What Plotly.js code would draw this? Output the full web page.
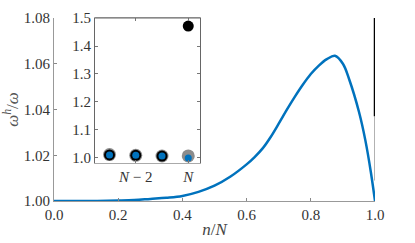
<!DOCTYPE html>
<html><head><meta charset="utf-8">
<script src="https://cdn.plot.ly/plotly-3.0.1.min.js"></script>
<style>html,body{margin:0;padding:0;background:#fff}#c{width:415px;height:243px}</style>
</head><body><div id="c"></div>
<script>
// main curve: ratio omega^h/omega vs n/N
const curveX = [0, 0.1, 0.2, 0.25, 0.3, 0.35, 0.4, 0.45, 0.5, 0.55, 0.6, 0.625, 0.65, 0.675, 0.7, 0.725, 0.75, 0.775, 0.8, 0.825, 0.85, 0.875, 0.9, 0.92, 0.95, 0.97, 0.987, 1.0];
const curveY = [1.0, 1.0, 1.0002, 1.0004, 1.0009, 1.0014, 1.0022, 1.0040, 1.0067, 1.0107, 1.0160, 1.0192, 1.0230, 1.0280, 1.0338, 1.0398, 1.0455, 1.0508, 1.0555, 1.0592, 1.0620, 1.0635, 1.0600, 1.0530, 1.0390, 1.0265, 1.0127, 1.0];
// discrete end points (inset): index relative to N
const discIdx = [-3, -2, -1, 0];
const discBlack = [1.011, 1.0095, 1.007, 1.471];
const discGray = [1.012, 1.0095, 1.007, 1.0075];
const discBlue = [1.011, 1.0095, 1.007, 1.0];
// jump at n/N = 1 in the main panel
const jumpX = [1, 1];
const jumpBlackY = [1.037, 1.471];
const jumpGrayY = [1.009, 1.037];
const insetTickVals = [-2, 0];
const insetTickText = ['<i>N</i> − 2', '<i>N</i>'];

const blue = '#0072BD';
const fam = '"Liberation Serif", serif';
function F(sz, col) { return {family: fam, size: sz, color: col}; }

const traces = [
  {x: jumpX, y: jumpGrayY, mode: 'lines', line: {color: '#999', width: 1.5}, xaxis: 'x', yaxis: 'y'},
  {x: jumpX, y: jumpBlackY, mode: 'lines', line: {color: '#000', width: 2.5}, xaxis: 'x', yaxis: 'y'},
  {x: curveX, y: curveY, mode: 'lines', line: {color: blue, width: 2.5, shape: 'spline', smoothing: 1}, xaxis: 'x', yaxis: 'y'},
  {x: discIdx, y: discGray, mode: 'markers', marker: {color: '#8c8c8c', size: 13, line: {width: 0}}, xaxis: 'x2', yaxis: 'y2', cliponaxis: false},
  {x: discIdx, y: discBlack, mode: 'markers', marker: {color: '#000', size: 11, line: {width: 0}}, xaxis: 'x2', yaxis: 'y2', cliponaxis: false},
  {x: discIdx, y: discBlue, mode: 'markers', marker: {color: blue, size: 7, line: {width: 0}}, xaxis: 'x2', yaxis: 'y2', cliponaxis: false}
];

const layout = {
  width: 415, height: 243,
  margin: {l: 54, r: 40, t: 18, b: 42},
  showlegend: false,
  paper_bgcolor: '#fff', plot_bgcolor: '#fff',
  font: F(15, '#333'),
  xaxis: {
    domain: [0, 1], range: [0, 1], tickvals: [0, 0.2, 0.4, 0.6, 0.8, 1.0], tickformat: '.1f',
    ticks: 'inside', ticklen: 3, tickcolor: '#888', showline: true, linecolor: '#999', linewidth: 1,
    showgrid: false, zeroline: false, tickfont: F(15, '#333'),
    title: {text: '<i>n</i>/<i>N</i>', font: F(17, '#444'), standoff: 1}
  },
  yaxis: {
    domain: [0, 1], range: [1.0, 1.08], tickvals: [1.0, 1.02, 1.04, 1.06, 1.08], tickformat: '.2f',
    ticks: 'inside', ticklen: 3, tickcolor: '#888', showline: true, linecolor: '#999', linewidth: 1,
    showgrid: false, zeroline: false, tickfont: F(15, '#333'),
    title: {text: '<i>ω<sup>h</sup></i>/<i>ω</i>', font: F(17, '#555'), standoff: 5}
  },
  xaxis2: {
    domain: [0.128, 0.455], range: [-3.55, 0.45], anchor: 'y2',
    tickvals: insetTickVals, ticktext: insetTickText,
    ticks: 'inside', ticklen: 3, tickcolor: '#777', showline: true, linecolor: '#aaa', linewidth: 1, mirror: 'ticks',
    showgrid: false, zeroline: false, tickfont: F(15, '#333')
  },
  yaxis2: {
    domain: [0.206, 1.0], range: [0.981, 1.5], anchor: 'x2',
    tickvals: [1.0, 1.1, 1.2, 1.3, 1.4, 1.5], tickformat: '.1f',
    ticks: 'inside', ticklen: 3, tickcolor: '#777', showline: true, linecolor: '#666', linewidth: 1, mirror: 'ticks',
    showgrid: false, zeroline: false, tickfont: F(15, '#333')
  },
  shapes: [
    {type: 'line', xref: 'x2 domain', yref: 'y2 domain', x0: 0, x1: 1, y0: 1, y1: 1, line: {color: '#666', width: 1}}
  ]
};
Plotly.newPlot('c', traces, layout, {displayModeBar: false, staticPlot: true});
</script></body></html>
